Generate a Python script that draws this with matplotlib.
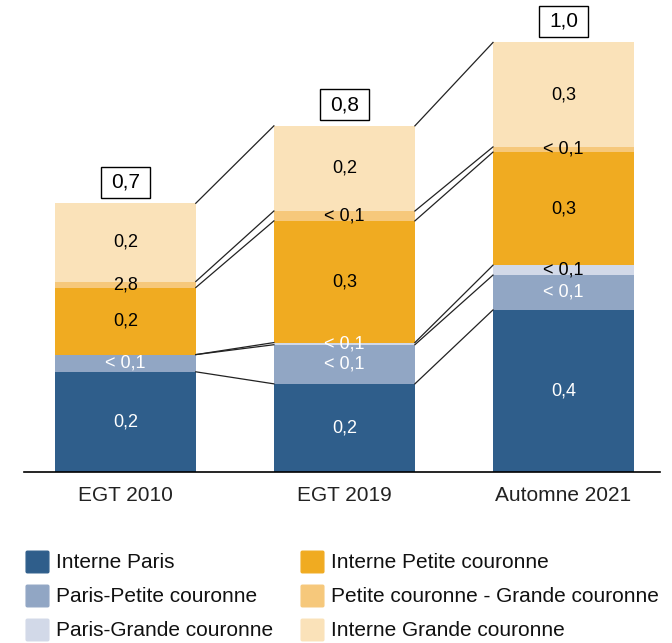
import matplotlib.pyplot as plt
from matplotlib.patches import FancyBboxPatch, Rectangle

plt.rcParams['font.family'] = ['Liberation Sans', 'DejaVu Sans']

periods = ["EGT 2010", "EGT 2019", "Automne 2021"]
flows = ["Interne Paris", "Paris-Petite couronne", "Paris-Grande couronne",
         "Interne Petite couronne", "Petite couronne - Grande couronne",
         "Interne Grande couronne"]
colors = ["#2f5e8b", "#91a6c4", "#d2d9e8", "#f0ab21", "#f6c87b", "#fae2b9"]

# millions of trips per flow, bottom to top
egt_2010 = [0.233, 0.040, 0.000, 0.156, 0.014, 0.182]
egt_2019 = [0.205, 0.091, 0.005, 0.283, 0.023, 0.198]
automne_2021 = [0.377, 0.081, 0.023, 0.263, 0.012, 0.243]
values = [egt_2010, egt_2019, automne_2021]

seg_labels = [
    ["0,2", "< 0,1", None, "0,2", "2,8", "0,2"],
    ["0,2", "< 0,1", "< 0,1", "0,3", "< 0,1", "0,2"],
    ["0,4", "< 0,1", "< 0,1", "0,3", "< 0,1", "0,3"],
]
seg_label_colors = [
    ["white", "white", "white", "black", "black", "black"],
    ["white", "white", "white", "black", "black", "black"],
    ["white", "white", "black", "black", "black", "black"],
]
totals = ["0,7", "0,8", "1,0"]

W, H = 672, 643
fig = plt.figure(figsize=(W / 100, H / 100), dpi=100)
ax = fig.add_axes([24 / W, 1 - 472 / H, 636 / W, 472 / H])

xs = [0, 1, 2]
width = 0.6435

cums = []
for x, vals, labs, lcols in zip(xs, values, seg_labels, seg_label_colors):
    bottom = 0
    levels = []
    for v, c, lab, lc in zip(vals, colors, labs, lcols):
        ax.bar(x, v, width=width, bottom=bottom, color=c, linewidth=0)
        if lab:
            ax.text(x, bottom + v / 2, lab, ha="center", va="center",
                    fontsize=13, color=lc)
        bottom += v
        levels.append(bottom)
    cums.append(levels)

# connectors between cumulative boundaries of neighbouring bars
for i in range(len(xs) - 1):
    for a, b in zip(cums[i], cums[i + 1]):
        ax.plot([xs[i] + width / 2, xs[i + 1] - width / 2], [a, b],
                color="#222222", linewidth=0.9, zorder=3)

# boxed totals above each bar
box_w, box_h = 0.222, 0.072
for x, levels, t in zip(xs, cums, totals):
    yc = levels[-1] + 0.049
    ax.add_patch(Rectangle((x - box_w / 2, yc - box_h / 2), box_w, box_h,
                           facecolor="white", edgecolor="black",
                           linewidth=1, clip_on=False, zorder=4))
    ax.text(x, yc, t, ha="center", va="center", fontsize=15, zorder=5)

ax.set_xlim(-0.4623, 2.4404)
ax.set_ylim(0, 472 / 430)
ax.set_xticks(xs)
ax.set_xticklabels(periods, fontsize=15, color="#222222")
ax.tick_params(axis="x", length=0, pad=10)
ax.set_yticks([])
for side in ["top", "left", "right"]:
    ax.spines[side].set_visible(False)
ax.spines["bottom"].set_linewidth(1.2)

# legend, two columns of three
col_x = [26, 301]
row_y = [562, 596, 630]
for k, (name, c) in enumerate(zip(flows, colors)):
    cx = col_x[k // 3]
    cy = row_y[k % 3]
    fig.patches.append(FancyBboxPatch(
        ((cx + 1.5) / W, 1 - (cy + 9.5) / H), 20 / W, 19 / H,
        boxstyle="round,pad=0.002", transform=fig.transFigure,
        facecolor=c, edgecolor=c, linewidth=1))
    fig.text((cx + 30) / W, 1 - (cy + 1) / H, name, ha="left", va="center",
             fontsize=15, color="#111111")

fig.savefig("out.png", dpi=100)
